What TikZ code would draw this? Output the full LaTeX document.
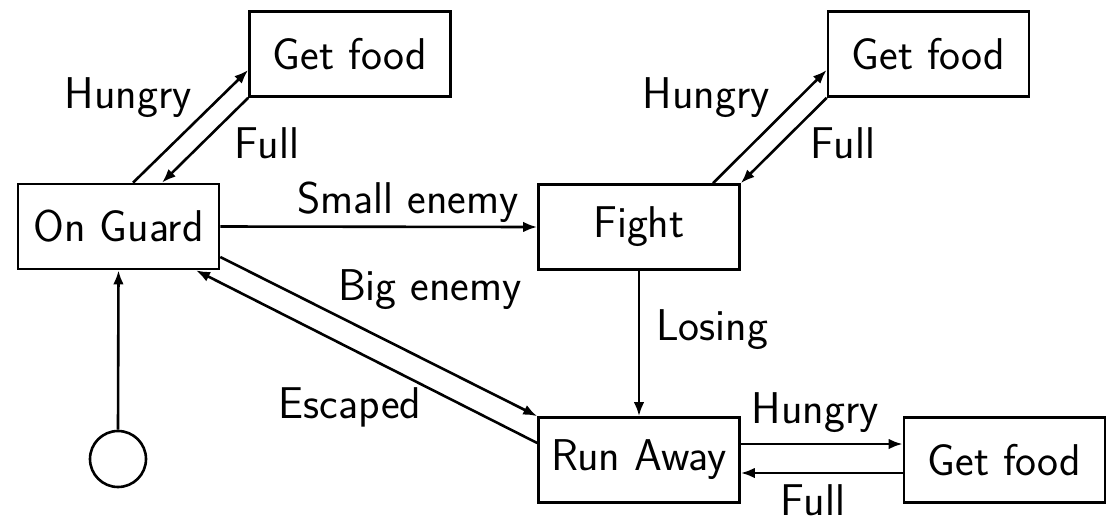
\documentclass[tikz,border=0pt]{standalone}
\usepackage{fontspec}
\usetikzlibrary{arrows.meta,calc}
\begin{document}
\begin{tikzpicture}[x=1pt,y=-1pt,
  font=\sffamily\fontsize{44.5}{53}\selectfont,
  state/.style={draw,line width=2.6pt,minimum width=201pt,minimum height=85pt,inner sep=0pt},
  start/.style={draw,line width=2.6pt,circle,minimum size=56pt,inner sep=0pt},
  trans/.style={line width=2.6pt,-{Latex[length=14pt,width=10.5pt]}},
  lbl/.style={inner sep=0pt}]
\useasboundingbox (0,0) rectangle (1116,523);

% states
\node[state] (guard) at (118.5,226.5) {On Guard};
\node[state] (food1) at (350,54) {Get food};
\node[state] (fight) at (639,227) {Fight};
\node[state] (food2) at (928.5,54) {Get food};
\node[state] (run)   at (639,460) {Run Away};
\node[state] (food3) at (1004.5,460) {Get food};
\node[start] (init)  at (118,459) {};

% transitions
\draw[trans] ($(guard.north)+(14.5,0)$) -- ($(food1.west)+(0,16)$);
\draw[trans] (food1.south west) -- ($(guard.north)+(43.5,0)$);
\draw[trans] ($(fight.north)+(74,0)$) -- ($(food2.west)+(0,16)$);
\draw[trans] (food2.south west) -- (fight.north east);
\draw[trans] (guard.east) -- (fight.west);
\draw[trans] ($(guard.east)+(0,30.5)$) -- (run.north west);
\draw[trans] ($(run.west)+(0,-17)$) -- ($(guard.south)+(77.5,0)$);
\draw[trans] (fight.south) -- (run.north);
\draw[trans] ($(run.east)+(0,-16)$) -- ($(food3.west)+(0,-16)$);
\draw[trans] ($(food3.west)+(0,13)$) -- ($(run.east)+(0,13)$);
\draw[trans] (init.north) -- (guard.south);

% transition labels
\node[lbl] (lh1) at (128,98) {Hungry};
\node[lbl] (lf1) at (267,143) {Full};
\node[lbl] (lse) at (408,202) {Small enemy};
\node[lbl] (lh2) at (706,98) {Hungry};
\node[lbl] (lf2) at (843,143) {Full};
\node[lbl] (lbe) at (430,290) {Big enemy};
\node[lbl] (llo) at (712,330) {Losing};
\node[lbl] (les) at (350,407) {Escaped};
\node[lbl] (lh3) at (815,413) {Hungry};
\node[lbl] (lf3) at (813,500) {Full};
\end{tikzpicture}
\end{document}
